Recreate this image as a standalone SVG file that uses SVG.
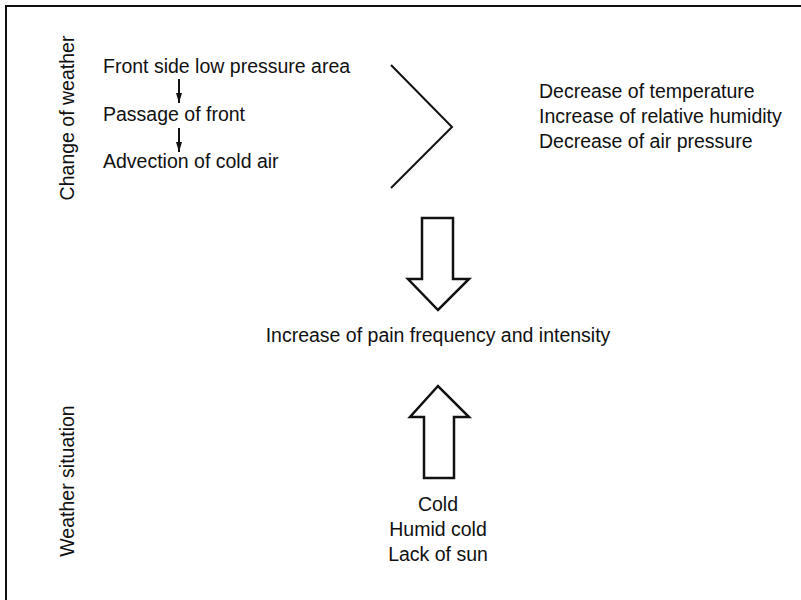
<svg xmlns="http://www.w3.org/2000/svg" width="801" height="600" viewBox="0 0 801 600">
<style>
text{font-family:"Liberation Sans",Arial,sans-serif;font-size:19.5px;fill:#111}
.c{text-anchor:middle}
.ln{fill:none;stroke:#111;stroke-width:2}
.big{fill:#fff;stroke:#111;stroke-width:2.5;stroke-linejoin:miter}
</style>
<defs>
<marker id="ah" viewBox="0 0 10 6" refX="10" refY="3" markerWidth="10" markerHeight="6" markerUnits="userSpaceOnUse" orient="auto">
<path d="M0,0 L10,3 L0,6 Z" fill="#111"/>
</marker>
</defs>
<rect width="801" height="600" fill="#fff"/>
<g id="frame"><path class="ln" d="M801,6 H6 V600"/></g>
<g id="label-change"><text class="c" transform="translate(74,118) rotate(-90)">Change of weather</text></g>
<g id="label-situation"><text class="c" transform="translate(74,481) rotate(-90)">Weather situation</text></g>
<g id="n-front"><text x="103" y="73">Front side low pressure area</text></g>
<g id="n-passage"><text x="103" y="121">Passage of front</text></g>
<g id="n-advection"><text x="103" y="168">Advection of cold air</text></g>
<g id="n-effects">
<text x="539" y="98">Decrease of temperature</text>
<text x="539" y="123">Increase of relative humidity</text>
<text x="539" y="148">Decrease of air pressure</text>
</g>
<g id="n-pain"><text class="c" x="438" y="342">Increase of pain frequency and intensity</text></g>
<g id="n-cold">
<text class="c" x="438" y="511">Cold</text>
<text class="c" x="438" y="536">Humid cold</text>
<text class="c" x="438" y="561">Lack of sun</text>
</g>
<g id="connectors">
<path class="ln" d="M179,79 V103" marker-end="url(#ah)"/>
<path class="ln" d="M179,128 V152" marker-end="url(#ah)"/>
<path class="ln" d="M391,65 L452,127 L391,188"/>
<path class="big" d="M422,218 H453 V279 H469 L438,310 L408,279 H422 Z"/>
<path class="big" d="M424,478 H454 V417 H469 L438,386 L410,417 H424 Z"/>
</g>
</svg>
